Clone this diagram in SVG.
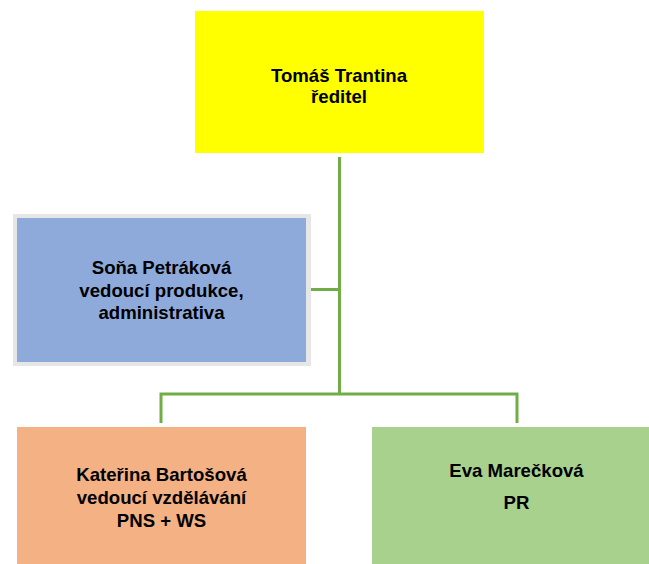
<svg xmlns="http://www.w3.org/2000/svg" width="649" height="564" viewBox="0 0 649 564">
<style>
text{font-family:"Liberation Sans",Arial,sans-serif;font-weight:bold;font-size:18.6px;fill:#000;text-anchor:middle}
.c{stroke:#70AD47;stroke-width:3;fill:none}
</style>
<rect width="649" height="564" fill="#fff"/>
<g id="connectors">
<path class="c" d="M339.5 157V394"/>
<path class="c" d="M311 289.5H339.5"/>
<path class="c" d="M161 423V394H517V423"/>
</g>
<g id="director">
<rect x="195" y="11" width="289" height="142" fill="#FFFF00"/>
<text x="339" y="82">Tomáš Trantina</text>
<text x="339" y="103">ředitel</text>
</g>
<g id="production">
<rect x="13" y="214" width="298" height="152" fill="#E7E6E6"/>
<rect x="17" y="218" width="289" height="144" fill="#8EAADB"/>
<text x="161.5" y="274">Soňa Petráková</text>
<text x="161.5" y="296.5">vedoucí produkce,</text>
<text x="161.5" y="319">administrativa</text>
</g>
<g id="education">
<rect x="17" y="427" width="289" height="137" fill="#F4B183"/>
<text x="161.5" y="481">Kateřina Bartošová</text>
<text x="161.5" y="504">vedoucí vzdělávání</text>
<text x="161.5" y="527">PNS + WS</text>
</g>
<g id="pr">
<rect x="372" y="427" width="289" height="137" fill="#A9D18E"/>
<text x="516.5" y="477">Eva Marečková</text>
<text x="516.5" y="509">PR</text>
</g>
</svg>
